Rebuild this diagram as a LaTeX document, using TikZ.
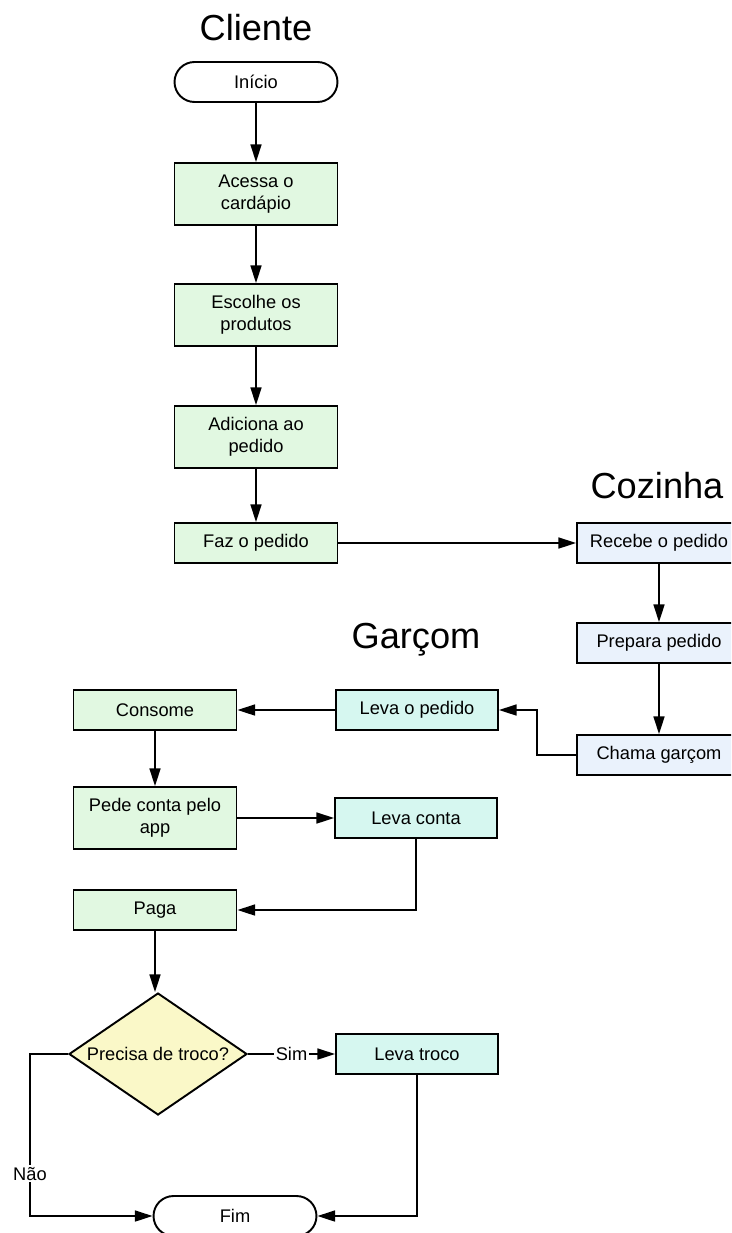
\documentclass[tikz,border=0pt]{standalone}
\usepackage{fontspec}
\setmainfont{Liberation Sans}
\usetikzlibrary{shapes.geometric,arrows.meta}

\definecolor{corcliente}{RGB}{225,248,225}
\definecolor{corcozinha}{RGB}{234,242,252}
\definecolor{corgarcom}{RGB}{214,247,240}
\definecolor{cordecisao}{RGB}{250,248,200}

\tikzset{
  caixa/.style={draw, line width=1.1pt, rectangle, align=center, inner sep=0pt,
    minimum width=3.26cm, minimum height=0.8cm, font=\fontsize{10.4}{12.6}\selectfont},
  dupla/.style={minimum height=1.24cm},
  cliente/.style={caixa, fill=corcliente},
  cozinha/.style={caixa, fill=corcozinha, minimum width=3.28cm},
  garcom/.style={caixa, fill=corgarcom, minimum width=3.24cm},
  terminal/.style={caixa, fill=white, rounded corners=0.4cm},
  decisao/.style={draw, line width=1.1pt, diamond, fill=cordecisao, inner sep=0pt,
    minimum width=3.56cm, minimum height=2.44cm, shape aspect=1.46,
    font=\fontsize{10.4}{12.6}\selectfont},
  titulo/.style={font=\fontsize{20.6}{24}\selectfont},
  seta/.style={line width=1.1pt, -{Triangle[length=10pt,width=6.2pt]}},
  rotulo/.style={fill=white, inner sep=1pt, font=\fontsize{10.4}{12.6}\selectfont}
}

\begin{document}
\begin{tikzpicture}[x=0.02cm, y=-0.02cm]
\useasboundingbox (0,0) rectangle (731,1233);
\clip (0,0) rectangle (731,1233);

% cliente
\node[titulo] (tcliente) at (256,28) {Cliente};
\node[terminal] (inicio) at (256,82) {Início};
\node[cliente, dupla] (acessa) at (256,194) {Acessa o\\cardápio};
\node[cliente, dupla] (escolhe) at (256,315) {Escolhe os\\produtos};
\node[cliente, dupla] (adiciona) at (256,437) {Adiciona ao\\pedido};
\node[cliente] (faz) at (256,543) {Faz o pedido};

% cozinha
\node[titulo] (tcozinha) at (657,486) {Cozinha};
\node[cozinha] (recebe) at (659,543) {Recebe o pedido};
\node[cozinha] (prepara) at (659,643) {Prepara pedido};
\node[cozinha] (chama) at (659,755) {Chama garçom};

% garcom
\node[titulo] (tgarcom) at (416,640) {Garçom};
\node[garcom] (levapedido) at (417,710) {Leva o pedido};
\node[cliente] (consome) at (155,710) {Consome};
\node[cliente, dupla] (pede) at (155,818) {Pede conta pelo\\app};
\node[garcom] (levaconta) at (416,818) {Leva conta};
\node[cliente] (paga) at (155,910) {Paga};
\node[decisao] (troco) at (158,1054) {Precisa de troco?};
\node[garcom] (levatroco) at (417,1054) {Leva troco};
\node[terminal] (fim) at (235,1216) {Fim};

\coordinate (dobra) at (537,755);
\coordinate (nao) at (30,1054);

\draw[seta] (inicio) -- (acessa);
\draw[seta] (acessa) -- (escolhe);
\draw[seta] (escolhe) -- (adiciona);
\draw[seta] (adiciona) -- (faz);
\draw[seta] (faz) -- (recebe);
\draw[seta] (recebe) -- (prepara);
\draw[seta] (prepara) -- (chama);
\draw[seta] (chama) -- (dobra) |- (levapedido);
\draw[seta] (levapedido) -- (consome);
\draw[seta] (consome) -- (pede);
\draw[seta] (pede) -- (levaconta);
\draw[seta] (levaconta) |- (paga);
\draw[seta] (paga) -- (paga |- troco.north);
\draw[seta] (troco) -- node[rotulo] {Sim} (levatroco);
\draw[seta] (troco) -- (nao) |- node[rotulo, pos=0.37] {Não} (fim);
\draw[seta] (levatroco) |- (fim);
\end{tikzpicture}
\end{document}
